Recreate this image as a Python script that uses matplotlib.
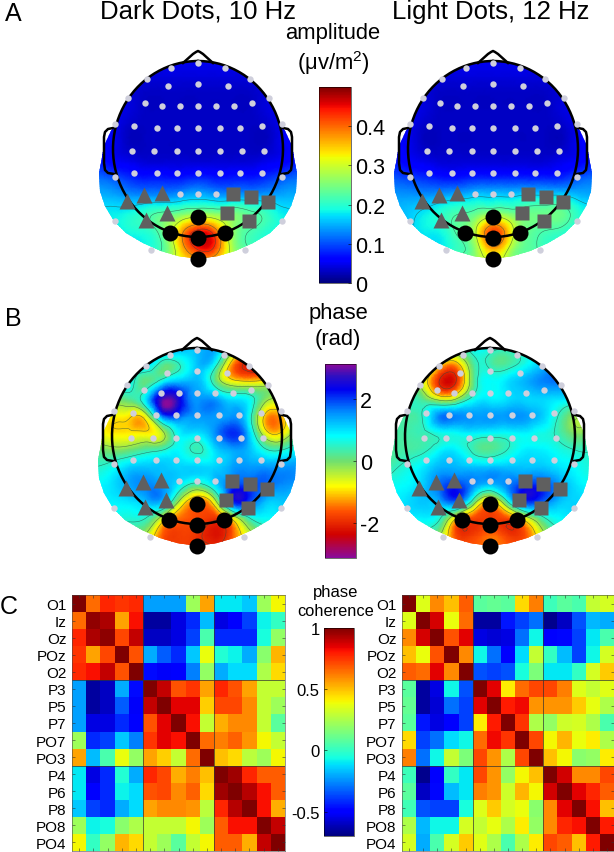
import numpy as np
import matplotlib
matplotlib.use("Agg")
import matplotlib.pyplot as plt
import matplotlib.tri as mtri
from matplotlib.cm import ScalarMappable
from matplotlib.colors import LinearSegmentedColormap, Normalize
from matplotlib.patches import Polygon

plt.rcParams["font.family"] = ["Liberation Sans", "DejaVu Sans"]
plt.rcParams["mathtext.fontset"] = "custom"
plt.rcParams["mathtext.rm"] = "Liberation Sans"
plt.rcParams["mathtext.it"] = "Liberation Sans"

W, H = 614, 853

# grid nodes of the scalp maps, in pixels from the top of the head
GRID_DX = [-102, -85, -68, -51, -34, -17, 0, 17, 34, 51, 68, 85, 102]
GRID_DY = [0, 17, 34, 51, 68, 85, 102, 119, 136, 153, 170, 187, 204]

AMP_DARK = [
    [.06, .06, .06, .05, .05, .05, .05, .05, .05, .05, .06, .06, .06],
    [.06, .06, .05, .04, .04, .04, .04, .04, .04, .04, .05, .06, .06],
    [.06, .05, .04, .03, .03, .03, .03, .03, .03, .03, .04, .05, .06],
    [.06, .05, .04, .03, .03, .03, .03, .03, .03, .03, .04, .05, .06],
    [.06, .05, .03, .03, .03, .03, .03, .03, .03, .03, .03, .05, .06],
    [.06, .05, .03, .03, .03, .03, .03, .03, .03, .03, .03, .05, .06],
    [.08, .06, .05, .04, .04, .04, .04, .04, .04, .04, .05, .06, .08],
    [.12, .11, .09, .08, .08, .08, .09, .08, .08, .08, .09, .11, .12],
    [.15, .15, .14, .14, .14, .15, .16, .15, .15, .15, .15, .15, .15],
    [.17, .18, .19, .21, .23, .25, .27, .26, .25, .23, .21, .18, .17],
    [.15, .17, .19, .20, .25, .36, .44, .40, .27, .22, .20, .18, .15],
    [.15, .16, .17, .19, .23, .35, .44, .42, .28, .22, .19, .17, .15],
    [.15, .18, .20, .24, .28, .30, .32, .30, .28, .24, .20, .18, .15],
]
AMP_LIGHT = [
    [.06, .06, .06, .05, .05, .05, .05, .05, .05, .05, .06, .06, .06],
    [.06, .06, .05, .04, .04, .04, .04, .04, .04, .04, .05, .06, .06],
    [.06, .05, .04, .03, .03, .03, .03, .03, .03, .03, .04, .05, .06],
    [.06, .05, .04, .03, .03, .03, .03, .03, .03, .03, .04, .05, .06],
    [.06, .05, .03, .03, .03, .03, .03, .03, .03, .03, .03, .05, .06],
    [.06, .05, .03, .03, .03, .03, .03, .03, .03, .03, .03, .05, .06],
    [.08, .06, .05, .04, .04, .04, .04, .04, .04, .04, .05, .06, .08],
    [.11, .10, .09, .08, .08, .09, .09, .09, .09, .09, .09, .11, .12],
    [.14, .14, .14, .15, .16, .17, .17, .17, .18, .18, .18, .16, .15],
    [.15, .16, .18, .20, .22, .24, .27, .25, .24, .24, .24, .20, .17],
    [.15, .16, .18, .19, .23, .30, .42, .33, .24, .22, .21, .18, .15],
    [.15, .16, .17, .18, .21, .27, .37, .29, .23, .21, .19, .17, .15],
    [.15, .17, .19, .22, .25, .28, .29, .28, .25, .22, .19, .17, .15],
]
PHASE_DARK = [
    [1.4, 1.4, 1.5, 1.6, 1.8, 1.4, 1.2, 1.4, 0.5, -1.5, -2.0, -1.0, -1.0],
    [1.1, 1.1, 1.1, 1.1, 0.2, 0.5, 1.2, 0.8, -1.2, -2.2, -2.2, -1.0, -1.0],
    [0.8, 0.8, 0.8, 0.1, 0.9, 1.3, 1.3, 0.3, -0.7, -0.9, -0.7, 0.0, 0.0],
    [0.2, 0.0, 0.2, 1.0, 2.9, 2.4, 1.5, 1.5, 1.0, 0.8, -0.1, -0.2, 0.0],
    [-0.2, -0.8, -0.9, -0.6, 1.8, 1.8, 1.5, 1.5, 1.5, 0.9, -1.1, -1.1, -0.3],
    [-0.5, -0.9, -0.9, -0.9, -0.4, 0.9, 1.0, 1.5, 2.1, 1.3, -0.7, -0.9, 0.2],
    [0.2, -0.1, 0.0, 0.3, 0.5, 0.8, 0.4, 1.0, 1.4, 1.3, 0.6, 0.5, 0.9],
    [0.5, 0.7, 1.1, 1.2, 1.2, 1.1, 1.1, 1.1, 1.4, 1.5, 1.5, 1.5, 1.5],
    [0.8, 1.0, 1.4, 1.6, 1.4, 0.9, 0.4, 1.0, 1.8, 1.9, 1.8, 1.6, 1.5],
    [0.9, 0.9, 1.0, 1.3, 1.3, -0.4, -1.4, -0.6, 2.0, 2.1, 1.3, 1.2, 1.0],
    [0.7, 0.7, 0.6, 0.5, -0.6, -1.5, -1.7, -1.9, -0.9, 0.4, 0.8, 0.9, 0.9],
    [0.3, 0.2, 0.0, -0.4, -1.6, -1.8, -1.9, -2.2, -1.7, -0.6, 0.0, 0.3, 0.3],
    [-0.5, -0.6, -1.0, -1.5, -1.7, -1.8, -1.8, -1.8, -1.7, -1.5, -1.0, -0.6, -0.5],
]
PHASE_LIGHT = [
    [1.0, 1.0, 1.0, 0.7, 0.5, 0.8, 0.7, 0.6, 0.9, 1.4, 2.0, 2.0, 2.0],
    [0.6, 0.5, 0.2, -0.9, -1.3, 0.2, 0.4, 0.3, 0.7, 1.2, 1.8, 1.8, 1.8],
    [0.5, 0.5, -0.5, -2.0, -2.0, 0.1, 0.8, 1.0, 1.3, 1.6, 1.7, 1.5, 1.5],
    [0.5, 0.5, 0.2, -0.5, -0.3, 0.7, 0.9, 1.0, 1.1, 1.1, 1.0, 0.8, 0.8],
    [0.3, 0.3, 0.5, 1.6, 1.6, 1.5, 1.5, 1.5, 1.5, 1.2, 0.5, -0.2, -0.2],
    [0.3, 0.3, 0.4, 0.7, 0.8, 0.9, 0.8, 0.8, 0.9, 0.7, 0.4, -0.1, 0.1],
    [0.2, 0.3, 0.4, 0.8, 0.9, 0.4, 0.2, 0.5, 0.9, 0.9, 0.7, 0.5, 0.5],
    [0.3, 0.6, 0.9, 1.3, 1.3, 1.2, 1.2, 1.2, 1.2, 1.2, 1.0, 0.8, 0.6],
    [0.7, 0.8, 1.1, 1.7, 2.0, 1.6, 1.3, 1.6, 2.0, 2.0, 1.5, 1.0, 0.8],
    [0.9, 1.0, 1.2, 1.4, 1.9, 0.3, -1.0, 0.5, 2.1, 1.9, 1.3, 1.1, 1.0],
    [0.9, 0.9, 0.9, 0.6, -0.9, -1.7, -1.8, -1.7, -0.7, 0.3, 0.8, 1.0, 1.0],
    [0.4, 0.3, 0.2, -0.2, -1.7, -1.8, -1.5, -1.8, -1.7, -0.6, 0.2, 0.3, 0.4],
    [-0.5, -0.6, -1.0, -1.5, -1.6, -1.6, -1.6, -1.6, -1.6, -1.5, -1.0, -0.6, -0.5],
]

# electrodes, in pixels from the top centre of the head
SENSOR_DX = [0, -27, 27, -51, 52, 0, -30, 30, -70, 71, -53, 54, -36, -18, 0, 18, 36,
             -83, 84, -64, 64, -41, -21, 0, 22, 42,
             -66, -44, -21, 0, 22, 44, 66,
             -64, -41, -21, 0, 22, 42, 64, -83, 84,
             -18, 0, 18, -83, 84, -47, 47]
SENSOR_DY = [2, 7, 7, 18, 18, 23, 25, 25, 37, 37, 42, 42, 45, 45, 45, 45, 45,
             63, 63, 65, 65, 67, 67, 67, 67, 67,
             90, 90, 90, 90, 90, 90, 90,
             112, 112, 112, 112, 112, 112, 112, 116, 116,
             133, 133, 133, 160, 160, 189, 189]
TRI_DX = [-71, -54, -36, -31, -52]
TRI_DY = [140, 134, 132, 152, 159]
SQUARE_DX = [35, 53, 70, 29, 51]
SQUARE_DY = [133, 136, 141, 152, 160]
DOT_DX = [0, -28, 0, 27, 0]
DOT_DY = [156, 172, 177, 172, 198]

# map outline below the head circle (half width against distance from top)
OUTLINE_DY = [63, 70, 85, 102, 112, 130, 145, 160, 172, 182, 190, 195, 198]
OUTLINE_HW = [82, 87, 94, 97, 99, 98, 93, 84, 72, 55, 37, 20, 0]

EAR_DX = [-85, -90, -93, -94, -94, -93, -90, -84]
EAR_DY = [67, 68, 71, 76, 102, 109, 112, 113]
NOSE_DX = [-15, -5, -2, 0, 2, 5, 15]
NOSE_DY = [2, -7, -9, -10, -9, -7, 2]

CHANNELS = ["O1", "Iz", "Oz", "POz", "O2", "P3", "P5", "P7", "PO7", "PO3",
            "P4", "P6", "P8", "PO8", "PO4"]
COH_DARK = [
    [1, .65, .78, .75, .77, -.22, -.22, -.22, .22, .55, -.1, -.1, -.15, .22, .4],
    [.65, .97, .93, .55, .82, -.65, -.65, -.55, -.42, -.17, -.55, -.5, -.38, -.08, 0],
    [.78, .93, .98, .72, .9, -.6, -.6, -.55, -.38, .05, -.42, -.42, -.42, -.05, .2],
    [.75, .55, .72, 1, .7, -.2, -.33, -.42, -.15, .38, -.03, -.08, -.2, .18, .52],
    [.77, .82, .9, .7, 1, -.47, -.52, -.5, -.27, .2, -.2, -.12, -.12, .25, .45],
    [-.22, -.65, -.6, -.2, -.47, 1, .9, .7, .75, .55, .78, .7, .55, .3, .3],
    [-.22, -.65, -.6, -.33, -.52, .9, 1, .85, .85, .47, .72, .72, .6, .3, .22],
    [-.22, -.55, -.55, -.42, -.5, .7, .85, 1, .82, .3, .53, .6, .6, .3, .08],
    [.22, -.42, -.38, -.15, -.27, .75, .85, .82, 1, .65, .62, .67, .58, .4, .3],
    [.55, -.17, .05, .38, .2, .55, .47, .3, .65, 1, .5, .45, .28, .22, .4],
    [-.1, -.55, -.42, -.03, -.2, .78, .72, .53, .62, .5, 1, .95, .78, .68, .68],
    [-.1, -.5, -.42, -.08, -.12, .7, .72, .6, .67, .45, .95, 1, .92, .82, .68],
    [-.15, -.38, -.42, -.2, -.12, .55, .6, .6, .58, .28, .78, .92, 1, .82, .53],
    [.22, -.08, -.05, .18, .25, .3, .3, .3, .4, .22, .68, .82, .82, 1, .9],
    [.4, 0, .2, .52, .45, .3, .22, .08, .3, .4, .68, .68, .53, .9, 1],
]
COH_LIGHT = [
    [1, .35, .6, .5, .68, .08, .1, .08, .45, .62, .02, .08, .05, .3, .33],
    [.35, 1, .87, .38, .65, -.65, -.65, -.45, -.38, -.3, -.68, -.6, -.35, -.18, -.2],
    [.6, .87, 1, .7, .85, -.55, -.57, -.55, -.3, -.07, -.5, -.48, -.38, -.1, .05],
    [.5, .38, .7, 1, .6, -.07, -.3, -.5, -.12, .3, 0, -.17, -.38, -.07, .33],
    [.68, .65, .85, .6, 1, -.35, -.38, -.35, -.05, .15, -.1, -.1, 0, .33, .48],
    [.08, -.65, -.55, -.07, -.35, 1, .85, .42, .65, .72, .72, .62, .35, .3, .36],
    [.1, -.65, -.57, -.3, -.38, .85, 1, .8, .83, .58, .58, .58, .48, .37, .25],
    [.08, -.45, -.55, -.5, -.38, .42, .8, 1, .75, .25, .2, .32, .33, .25, .05],
    [.45, -.38, -.3, -.12, -.07, .65, .83, .75, 1, .72, .4, .52, .38, .42, .25],
    [.62, -.3, -.07, .3, .15, .72, .58, .25, .72, 1, .5, .4, .18, .2, .42],
    [.02, -.68, -.5, 0, -.1, .72, .58, .2, .4, .5, 1, .88, .6, .6, .72],
    [.08, -.6, -.48, -.17, -.1, .62, .58, .32, .52, .4, .88, 1, .85, .78, .68],
    [.03, -.35, -.38, -.38, -.05, .35, .48, .33, .38, .18, .6, .85, 1, .82, .5],
    [.25, -.18, -.07, -.07, .33, .3, .37, .25, .42, .2, .6, .78, .82, 1, .8],
    [.33, -.2, .05, .33, .48, .36, .25, .05, .25, .42, .72, .68, .5, .8, 1],
]

PHASE_CMAP = LinearSegmentedColormap.from_list("phase", [
    (0.00, "#8a0a9a"), (0.12, "#d00000"), (0.24, "#ff5000"), (0.37, "#ffff00"),
    (0.50, "#70e070"), (0.63, "#00ffff"), (0.75, "#0090ff"), (0.87, "#0000f0"),
    (0.94, "#3010c0"), (1.00, "#8a0a9a")])


def px_axes(fig, x0, y0, x1, y1):
    return fig.add_axes([x0 / W, 1 - y1 / H, (x1 - x0) / W, (y1 - y0) / H])


def px_text(fig, x, y, s, **kw):
    kw.setdefault("ha", "center")
    kw.setdefault("va", "center")
    return fig.text(x / W, 1 - y / H, s, **kw)


def scalp_map(fig, cx, top, values, cmap, vmin, vmax, levels):
    ax = px_axes(fig, cx - 110, top - 15, cx + 110, top + 215)
    ax.set_xlim(-110, 110)
    ax.set_ylim(215, -15)
    ax.axis("off")

    # outline: head ellipse on top, wider skirt below
    t = np.linspace(0, np.arccos((88 - 63) / 88), 40)
    up_x, up_y = 85 * np.sin(t), 88 - 88 * np.cos(t)
    rx = np.r_[up_x, OUTLINE_HW]
    ry = np.r_[up_y, OUTLINE_DY]
    outline = np.c_[np.r_[rx, -rx[::-1]], np.r_[ry, ry[::-1]]]
    clip = Polygon(outline, closed=True, fc="none", ec="none", transform=ax.transData)
    ax.add_patch(clip)

    gx, gy = np.meshgrid(GRID_DX, GRID_DY)
    tri = mtri.Triangulation(gx.ravel(), gy.ravel())
    fine, z = mtri.UniformTriRefiner(tri).refine_field(np.array(values, float).ravel(), subdiv=3)
    fill = ax.tripcolor(fine, z, shading="gouraud", cmap=cmap, vmin=vmin, vmax=vmax)
    fill.set_clip_path(clip)
    lines = ax.tricontour(fine, z, levels=levels, colors="#2a4a40", linewidths=0.4,
                          linestyles="solid", alpha=0.7)
    lines.set_clip_path(clip)

    # head, nose, ears
    a = np.linspace(0, 2 * np.pi, 200)
    ax.plot(85 * np.sin(a), 88 - 88 * np.cos(a), color="k", lw=1.8, zorder=3)
    ax.plot(NOSE_DX, NOSE_DY, color="k", lw=1.8, zorder=3)
    ax.plot(EAR_DX, EAR_DY, color="k", lw=1.8, zorder=3)
    ax.plot(-np.array(EAR_DX), EAR_DY, color="k", lw=1.8, zorder=3)

    ax.plot(SENSOR_DX, SENSOR_DY, "o", ms=4.6, mfc="#cfcfdc", mec="none", zorder=4, clip_on=False)
    ax.plot(TRI_DX, TRI_DY, "^", ms=11.5, mfc="#5f5f5f", mec="none", zorder=5)
    ax.plot(SQUARE_DX, SQUARE_DY, "s", ms=9.5, mfc="#5f5f5f", mec="none", zorder=5)
    ax.plot(DOT_DX, DOT_DY, "o", ms=11.5, mfc="k", mec="none", zorder=6)
    return ax


def colorbar(fig, box, cmap, vmin, vmax, ticks, labels, fs, side="right"):
    cax = px_axes(fig, *box)
    cb = fig.colorbar(ScalarMappable(Normalize(vmin, vmax), cmap), cax=cax)
    cb.set_ticks(ticks)
    cb.set_ticklabels(labels)
    cb.outline.set_linewidth(0.4)
    cax.yaxis.set_ticks_position(side)
    cax.tick_params(direction="in", length=2, width=0.4, labelsize=fs, pad=3)
    return cb


def coherence(fig, x0, x1, values):
    ax = px_axes(fig, x0, 596, x1, 852)
    ax.imshow(values, cmap="jet", vmin=-0.7, vmax=1, aspect="auto", interpolation="nearest")
    ax.set_yticks(range(len(CHANNELS)))
    ax.set_yticklabels(CHANNELS, fontsize=11)
    ax.set_xticks(range(len(CHANNELS)))
    ax.set_xticklabels([])
    ax.tick_params(direction="in", length=2, width=0.4, top=True, right=True, pad=4, color="#333333")
    for s in ax.spines.values():
        s.set_linewidth(0.4)
        s.set_color("#444444")
    for p in (4.5, 9.5):
        ax.axhline(p, color="#333333", lw=0.5)
        ax.axvline(p, color="#333333", lw=0.5)
    return ax


fig = plt.figure(figsize=(W / 100, H / 100), dpi=100)

px_text(fig, 13, 14, "A", fontsize=18)
px_text(fig, 13, 319, "B", fontsize=18)
px_text(fig, 9, 607, "C", fontsize=18)
px_text(fig, 198, 19, "Dark Dots, 10 Hz", fontsize=18.5, va="baseline")
px_text(fig, 491, 19, "Light Dots, 12 Hz", fontsize=18.5, va="baseline")
px_text(fig, 333, 33, "amplitude", fontsize=15.8)
px_text(fig, 333, 63, r"($\mathregular{\mu}$v/m$^{\mathregular{2}}$)", fontsize=15.8)
px_text(fig, 338, 314, "phase", fontsize=15.8)
px_text(fig, 338, 340, "(rad)", fontsize=15.8)
px_text(fig, 336, 593, "phase", fontsize=12)
px_text(fig, 336, 612, "coherence", fontsize=11.8)

amp_levels = [0.17, 0.22, 0.3, 0.38, 0.43]
phase_levels = [-2, -1, -0.3, 0.5]
scalp_map(fig, 198, 62, AMP_DARK, "jet", 0, 0.5, amp_levels)
scalp_map(fig, 493, 62, AMP_LIGHT, "jet", 0, 0.5, amp_levels)
scalp_map(fig, 197, 349, PHASE_DARK, PHASE_CMAP, -np.pi, np.pi, phase_levels)
scalp_map(fig, 490, 349, PHASE_LIGHT, PHASE_CMAP, -np.pi, np.pi, phase_levels)

colorbar(fig, (319, 88, 351, 284), "jet", 0, 0.5, [0, .1, .2, .3, .4],
         ["0", "0.1", "0.2", "0.3", "0.4"], 15.5)
colorbar(fig, (325, 365, 356, 559), PHASE_CMAP, -np.pi, np.pi, [-2, 0, 2],
         ["-2", "0", "2"], 15.5)
colorbar(fig, (324, 629, 354, 837), "jet", -0.7, 1, [-.5, 0, .5, 1],
         ["-0.5", "0", "0.5", "1"], 12, side="left")

coherence(fig, 72, 285, COH_DARK)
coherence(fig, 402, 614, COH_LIGHT)

fig.savefig("out.png", dpi=100)
